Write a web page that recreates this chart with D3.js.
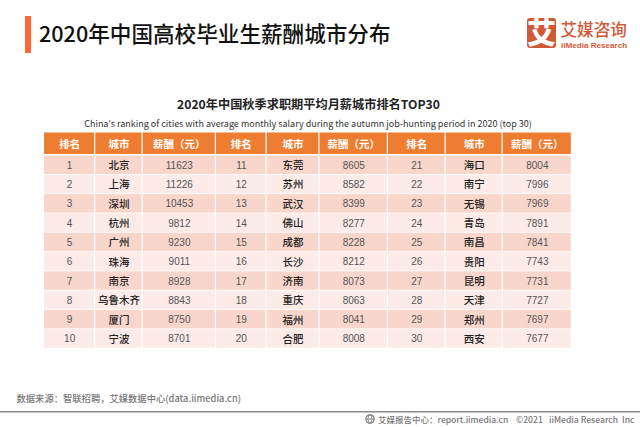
<!DOCTYPE html>
<html>
<head>
<meta charset="utf-8">
<script src="https://cdn.jsdelivr.net/npm/d3@7"></script>
<style>
html, body { margin: 0; padding: 0; background: #fff; }
svg { display: block; }
text { font-family: "Noto Sans CJK SC", "Noto Sans", sans-serif; }
text.num, text.latin { font-family: "Liberation Sans", sans-serif; }
</style>
</head>
<body>
<div id="chart"></div>
<script>
// Data
const ranks = d3.range(1, 31);
const cities = ["北京", "上海", "深圳", "杭州", "广州", "珠海", "南京", "乌鲁木齐", "厦门", "宁波",
    "东莞", "苏州", "武汉", "佛山", "成都", "长沙", "济南", "重庆", "福州", "合肥",
    "海口", "南宁", "无锡", "青岛", "南昌", "贵阳", "昆明", "天津", "郑州", "西安"];
const salaries = [11623, 11226, 10453, 9812, 9230, 9011, 8928, 8843, 8750, 8701,
    8605, 8582, 8399, 8277, 8228, 8212, 8073, 8063, 8041, 8008,
    8004, 7996, 7969, 7891, 7841, 7743, 7731, 7727, 7697, 7677];
const headers = ["排名", "城市", "薪酬（元）"];

const width = 640, height = 427;
const colEdges = [44, 95.3, 142.7, 216, 266.7, 319.5, 388, 445.7, 502.7, 572];
const rowsPerBlock = 10;

const svg = d3.select("#chart").append("svg")
    .attr("width", width)
    .attr("height", height);

// Title
svg.append("rect").attr("x", 25).attr("y", 16).attr("width", 6).attr("height", 37).attr("fill", "#ff6633");
svg.append("text").attr("x", 39).attr("y", 41.5)
    .attr("font-size", 21.6).attr("font-weight", 500).attr("fill", "#111")
    .text("2020年中国高校毕业生薪酬城市分布");

// Logo
svg.append("rect").attr("x", 527).attr("y", 18).attr("width", 29).attr("height", 30).attr("rx", 3).attr("fill", "#cf5a38");
svg.append("text").attr("x", 541.5).attr("y", 43.5).attr("text-anchor", "middle")
    .attr("font-size", 29).attr("font-weight", 900).attr("fill", "#fff").text("艾");
svg.append("text").attr("x", 560.5).attr("y", 35.5)
    .attr("font-size", 16.6).attr("font-weight", 500).attr("fill", "#cf5a38").text("艾媒咨询");
svg.append("text").attr("class", "latin").attr("x", 561).attr("y", 47.8)
    .attr("font-size", 8.1).attr("font-weight", 700).attr("fill", "#cf5a38").text("iiMedia Research");

// Chart titles
svg.append("text").attr("x", 308.5).attr("y", 109).attr("text-anchor", "middle")
    .attr("font-size", 12.2).attr("font-weight", 700).attr("fill", "#222")
    .text("2020年中国秋季求职期平均月薪城市排名TOP30");
svg.append("text").attr("x", 308).attr("y", 127).attr("text-anchor", "middle")
    .attr("font-size", 9).attr("fill", "#333")
    .text("China's ranking of cities with average monthly salary during the autumn job-hunting period in 2020 (top 30)");

// Scales
const y = d3.scaleBand()
    .domain(d3.range(rowsPerBlock))
    .range([155.5, 348.5]);
const colX = i => colEdges[i];
const colW = i => colEdges[i + 1] - colEdges[i];
const gap = 1.2;

// Header
d3.range(9).forEach(i => {
    svg.append("rect")
        .attr("x", colX(i)).attr("y", 132.5)
        .attr("width", colW(i) - gap).attr("height", 21.5)
        .attr("fill", "#ee7d31");
    svg.append("text")
        .attr("x", colX(i) + colW(i) / 2).attr("y", 147.5)
        .attr("text-anchor", "middle")
        .attr("font-size", 10.5).attr("font-weight", 700).attr("fill", "#fff")
        .text(headers[i % 3]);
});

// Body cells
const records = ranks.map((r, i) => ({ rank: r, city: cities[i], salary: salaries[i], block: Math.floor(i / rowsPerBlock), row: i % rowsPerBlock }));
const fill = row => row % 2 === 0 ? "#f8d6cb" : "#fcebe7";

const cell = svg.selectAll("g.rec").data(records).enter().append("g").attr("class", "rec");

[0, 1, 2].forEach(c => {
    cell.append("rect")
        .attr("x", d => colX(d.block * 3 + c))
        .attr("y", d => y(d.row))
        .attr("width", d => colW(d.block * 3 + c) - gap)
        .attr("height", y.bandwidth() - 0.8)
        .attr("fill", d => fill(d.row));
});

const mid = (d, c) => colX(d.block * 3 + c) + colW(d.block * 3 + c) / 2;
const base = d => y(d.row) + y.bandwidth() / 2 + 3.6;

cell.append("text").attr("class", "num").attr("x", d => mid(d, 0)).attr("y", base)
    .attr("text-anchor", "middle").attr("font-size", 10).attr("fill", "#555")
    .text(d => d.rank);
cell.append("text").attr("x", d => mid(d, 1)).attr("y", d => base(d) + 0.4)
    .attr("text-anchor", "middle").attr("font-size", 10.5).attr("font-weight", 500).attr("fill", "#222")
    .text(d => d.city);
cell.append("text").attr("class", "num").attr("x", d => mid(d, 2)).attr("y", base)
    .attr("text-anchor", "middle").attr("font-size", 10).attr("fill", "#555")
    .text(d => d.salary);

// Footer
svg.append("text").attr("x", 16.5).attr("y", 402)
    .attr("font-size", 9.3).attr("font-weight", 500).attr("fill", "#777")
    .text("数据来源：智联招聘，艾媒数据中心(data.iimedia.cn)");
svg.append("rect").attr("x", 0).attr("y", 411).attr("width", width).attr("height", 1.5).attr("fill", "#8a8a8a");

// Globe icon
const icon = svg.append("g").attr("fill", "none").attr("stroke", "#777");
icon.append("circle").attr("cx", 370).attr("cy", 419).attr("r", 4.2).attr("stroke-width", 1.2);
icon.append("ellipse").attr("cx", 370).attr("cy", 419).attr("rx", 2).attr("ry", 4.2).attr("stroke-width", 0.8);
icon.append("line").attr("x1", 366).attr("x2", 374).attr("y1", 419).attr("y2", 419).attr("stroke-width", 0.8);

svg.append("text").attr("x", 378).attr("y", 422.5)
    .attr("font-size", 8.5).attr("font-weight", 500).attr("fill", "#777")
    .text("艾媒报告中心：report.iimedia.cn");
svg.append("text").attr("x", 516).attr("y", 422.5)
    .attr("font-size", 8.6).attr("font-weight", 500).attr("fill", "#777")
    .text("©2021");
svg.append("text").attr("x", 549).attr("y", 422.5)
    .attr("font-size", 8.6).attr("font-weight", 500).attr("fill", "#777")
    .text("iiMedia Research");
svg.append("text").attr("x", 622).attr("y", 422.5)
    .attr("font-size", 8.6).attr("font-weight", 500).attr("fill", "#777")
    .text("Inc");
</script>
</body>
</html>
